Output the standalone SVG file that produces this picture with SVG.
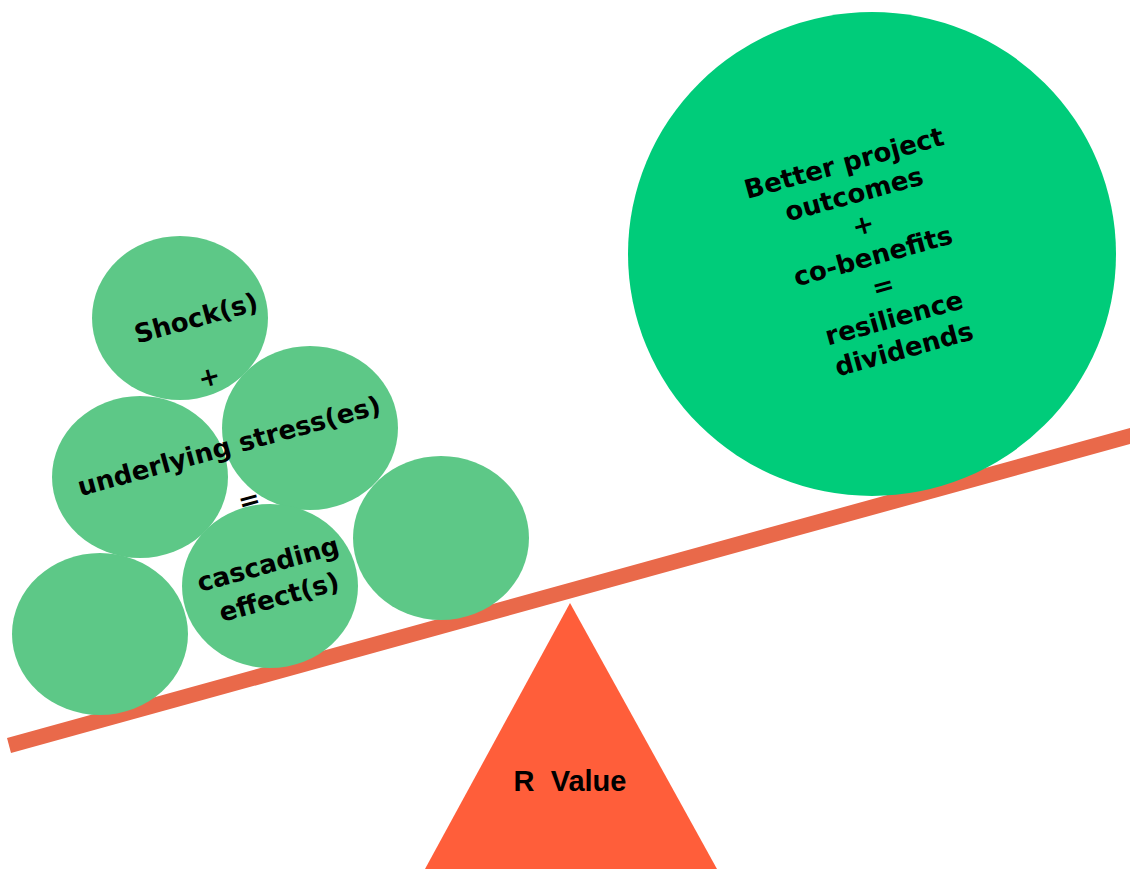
<svg xmlns="http://www.w3.org/2000/svg" width="1130" height="869" viewBox="0 0 1130 869">
  <style>
    .ball { fill: #5dc887; }
    .big { fill: #00cc7a; }
    .lbl { font-family: "DejaVu Sans", Verdana, sans-serif; font-weight: bold; font-size: 26px; fill: #000; text-anchor: middle; }
    .rv { font-family: "Liberation Sans", Arial, sans-serif; font-weight: bold; font-size: 29px; fill: #000; text-anchor: middle; }
  </style>
  <rect width="1130" height="869" fill="#ffffff"/>

  <!-- fulcrum -->
  <g id="fulcrum">
    <polygon points="570,603 425,869 717,869" fill="#ff5e3a"/>
    <text class="rv" x="570" y="791" xml:space="preserve">R  Value</text>
  </g>

  <!-- tilted beam -->
  <g id="beam">
    <polygon points="7,738 1130,428 1130,444 11,753" fill="#e9694a"/>
  </g>

  <!-- stacked load on the low side -->
  <g id="ball-shock"><ellipse class="ball" cx="180" cy="318" rx="88" ry="82"/></g>
  <g id="ball-underlying"><ellipse class="ball" cx="140" cy="477" rx="88" ry="81"/></g>
  <g id="ball-stress"><ellipse class="ball" cx="310" cy="428" rx="88" ry="82"/></g>
  <g id="ball-bottom-left"><ellipse class="ball" cx="100" cy="634" rx="88" ry="81"/></g>
  <g id="ball-cascading"><ellipse class="ball" cx="270" cy="586" rx="88" ry="82"/></g>
  <g id="ball-right"><ellipse class="ball" cx="441" cy="538" rx="88" ry="82"/></g>

  <g id="load-text">
    <text class="lbl" transform="translate(196,318) rotate(-15.4)" y="9">Shock(s)</text>
    <text class="lbl" transform="translate(209,377) rotate(-15.4)" y="9">+</text>
    <text class="lbl" transform="translate(229,446) rotate(-15.4)" y="9">underlying stress(es)</text>
    <text class="lbl" transform="translate(249,500) rotate(-15.4)" y="9">=</text>
    <text class="lbl" transform="translate(268,564) rotate(-15.4)" y="9">cascading</text>
    <text class="lbl" transform="translate(279,597) rotate(-15.4)" y="9">effect(s)</text>
  </g>

  <!-- counterweight on the high side -->
  <g id="dividend">
    <ellipse class="big" cx="872" cy="254" rx="244" ry="242"/>
    <text class="lbl" transform="translate(844,163) rotate(-15.4)" y="9">Better project</text>
    <text class="lbl" transform="translate(854,194) rotate(-15.4)" y="9">outcomes</text>
    <text class="lbl" transform="translate(863,225) rotate(-15.4)" y="9">+</text>
    <text class="lbl" transform="translate(873,256) rotate(-15.4)" y="9">co-benefits</text>
    <text class="lbl" transform="translate(883,286) rotate(-15.4)" y="9">=</text>
    <text class="lbl" transform="translate(894,318) rotate(-15.4)" y="9">resilience</text>
    <text class="lbl" transform="translate(904,349) rotate(-15.4)" y="9">dividends</text>
  </g>
</svg>
